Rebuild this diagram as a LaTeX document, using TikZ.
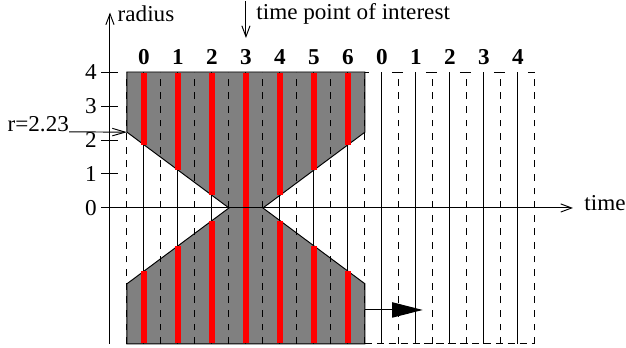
\documentclass[tikz,border=0pt]{standalone}
\usepackage{fontspec}
\setmainfont[FakeStretch=1.02]{Liberation Serif}
\usetikzlibrary{arrows.meta}
\begin{document}
\begin{tikzpicture}[x=1cm,y=1cm,
  ln/.style={line width=0.8pt, black},
  dsh/.style={line width=0.8pt, black, dash pattern=on 0.2cm off 0.2cm},
  topdsh/.style={line width=0.8pt, black, dash pattern=on 0.33cm off 0.67cm, dash phase=0.21cm},
  botdsh/.style={line width=0.8pt, black, dash pattern=on 0.22cm off 0.13cm},
  redbar/.style={line width=0.16cm, red},
  lbl/.style={font=\fontsize{19}{21}\selectfont, inner sep=0pt},
  num/.style={font=\fontsize{19}{21}\selectfont\bfseries, inner sep=0pt},
  barb/.style={-{Straight Barb[length=0.32cm,width=0.24cm]}}
]
\useasboundingbox (-3.235,-4.118) rectangle (15.18,6.118);
\def\rr{2.23}
% gray region
\fill[gray] (0.5,4) -- (7.5,4) -- (7.5,\rr) -- (4.5,0) -- (7.5,-\rr) -- (7.5,-4) -- (0.5,-4) -- (0.5,-\rr) -- (3.5,0) -- (0.5,\rr) -- cycle;
% solid time lines
\foreach \x in {1,...,12} \draw[ln] (\x,-4) -- (\x,4);
% dashed half-step lines
\foreach \x in {0.5,1.5,...,12.5} \draw[dsh] (\x,-4) -- (\x,4);
% outline of gray region
\draw[ln] (0.5,4) -- (7.5,4) -- (7.5,\rr) -- (4.5,0) -- (7.5,-\rr) -- (7.5,-4) -- (0.5,-4) -- (0.5,-\rr) -- (3.5,0) -- (0.5,\rr) -- cycle;
% dashed top and bottom of the free part
\draw[topdsh] (7.5,4) -- (12.5,4);
\draw[botdsh] (7.5,-4) -- (12.5,-4);
% red bars
\foreach \x/\y in {1/1.858,2/1.115,3/0.372,5/0.372,6/1.115,7/1.858} {
  \draw[redbar] (\x,3.98) -- (\x,\y);
  \draw[redbar] (\x,-3.98) -- (\x,-\y);
}
\draw[redbar] (4,-3.98) -- (4,3.98);
% axes
\coordinate (ybot) at (0,-4);
\coordinate (ytop) at (0,5.75);
\draw[ln,barb] (ybot) -- (ytop);
\coordinate (xl) at (-0.25,0);
\coordinate (xr) at (13.62,0);
\draw[ln,barb] (xl) -- (xr);
\foreach \y in {1,...,4} \draw[ln] (-0.25,\y) -- (0.25,\y);
\foreach \y in {0,...,4} \node[lbl,anchor=east] (tick\y) at (-0.38,\y) {\y};
% column labels
\foreach \x/\l in {1/0,2/1,3/2,4/3,5/4,6/5,7/6,8/0,9/1,10/2,11/3,12/4}
  \node[num] (col\x) at (\x,4.43) {\l};
% labels
\node[lbl,anchor=west] (rad) at (0.22,5.72) {radius};
\coordinate (tpa) at (4,6.08);
\coordinate (tpb) at (4,5.0);
\draw[ln,barb] (tpa) -- (tpb);
\node[lbl,anchor=west] (tpi) at (4.3,5.72) {time point of interest};
\node[lbl,anchor=west] (tm) at (13.95,0.15) {time};
\node[lbl,anchor=base east] (rl) at (-1.2,2.24) {r=2.23};
\coordinate (rtip) at (0.5,\rr);
\draw[ln,-{Straight Barb[length=0.38cm,width=0.22cm]}] (rl.base east) -- (rtip);
% shift arrow
\coordinate (ba) at (7.5,-3);
\coordinate (bb) at (9.2,-3);
\draw[ln,-{Triangle[length=0.9cm,width=0.45cm]}] (ba) -- (bb);
\end{tikzpicture}
\end{document}
